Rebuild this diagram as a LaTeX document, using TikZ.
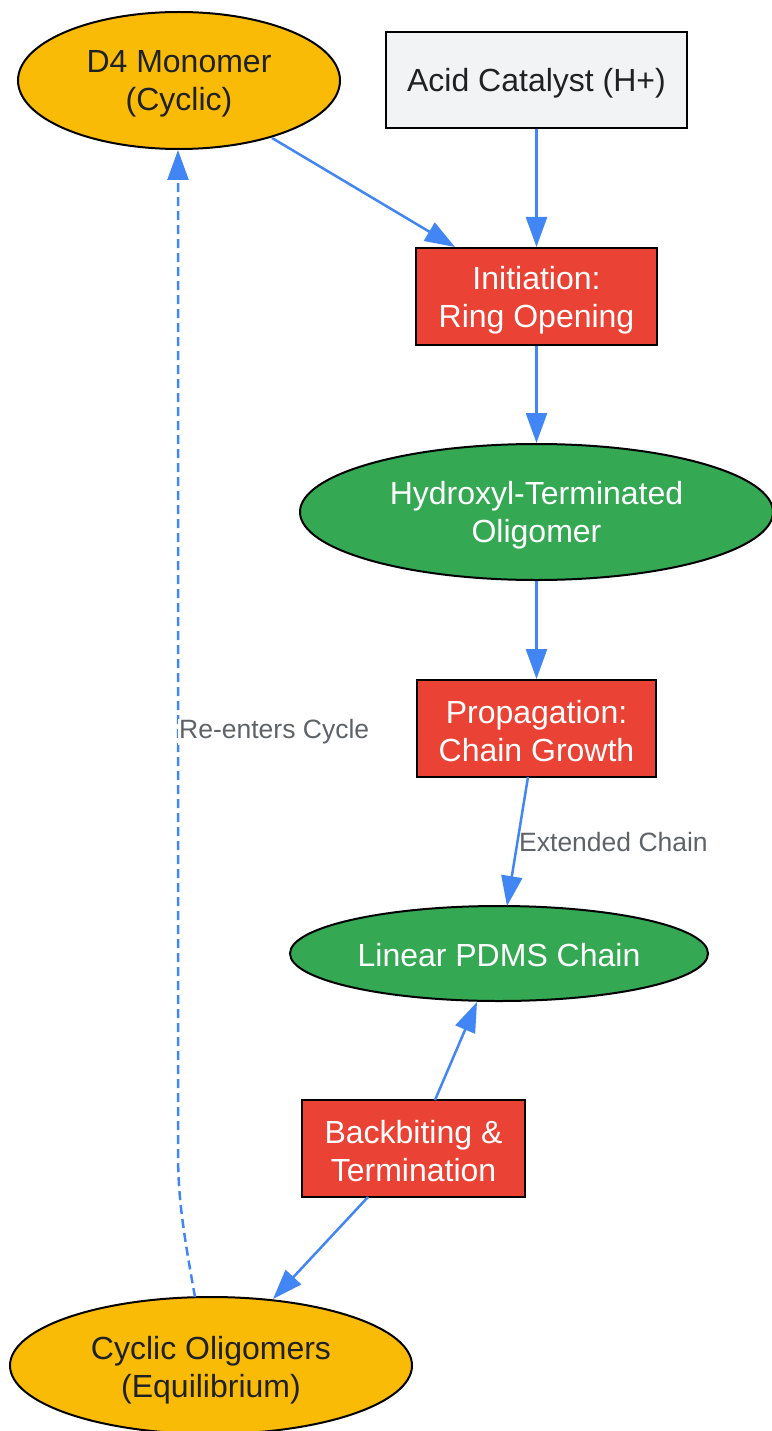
\documentclass[tikz,border=0pt]{standalone}
\usepackage{fontspec}
\setmainfont{Liberation Sans}
\usetikzlibrary{shapes.geometric,arrows.meta}
\definecolor{gyellow}{HTML}{F9BB05}
\definecolor{ggrey}{HTML}{F1F3F4}
\definecolor{gred}{HTML}{EA4335}
\definecolor{ggreen}{HTML}{34A853}
\definecolor{gblue}{HTML}{4285F4}
\definecolor{gtext}{HTML}{202124}
\definecolor{glabel}{HTML}{5F6368}
\tikzset{
  base/.style={draw=black, line width=2pt, inner sep=0pt},
  ell/.style={base, ellipse},
  box/.style={base, rectangle},
  yel/.style={ell, fill=gyellow},
  grn/.style={ell, fill=ggreen},
  red/.style={box, fill=gred},
  gry/.style={box, fill=ggrey},
  txt/.style={align=center, inner sep=0pt, font=\fontsize{32}{38}\selectfont},
  dark/.style={txt, text=gtext},
  light/.style={txt, text=white},
  conn/.style={draw=gblue, line width=2.5pt, -{Triangle[length=30pt,width=21pt]}},
  elabel/.style={text=glabel, font=\fontsize{26.5}{30}\selectfont, inner sep=1pt}
}
\begin{document}
\begin{tikzpicture}[x=1pt,y=-1pt]
\useasboundingbox (0,0) rectangle (771,1431);
\node[yel, minimum width=322pt, minimum height=137pt] (d4) at (179,80.5) {};
\node[gry, minimum width=301pt, minimum height=96pt] (acid) at (536.5,80) {};
\node[red, minimum width=241pt, minimum height=97pt] (init) at (536.5,296.5) {};
\node[grn, minimum width=473pt, minimum height=136pt] (hyd) at (536.5,512) {};
\node[red, minimum width=239pt, minimum height=97pt] (prop) at (536.5,728.5) {};
\node[grn, minimum width=418pt, minimum height=95pt] (lin) at (499,953.5) {};
\node[red, minimum width=223pt, minimum height=97pt] (back) at (413.5,1148.5) {};
\node[yel, minimum width=402pt, minimum height=137pt] (cyc) at (211,1365.5) {};

\node[dark] (d4t) at ([yshift=-3.5pt]d4.center) {D4 Monomer\\(Cyclic)};
\node[dark] (acidt) at ([yshift=-3.5pt]acid.center) {Acid Catalyst (H+)};
\node[light] (initt) at ([yshift=-3.5pt]init.center) {Initiation:\\Ring Opening};
\node[light] (hydt) at ([yshift=-3.5pt]hyd.center) {Hydroxyl-Terminated\\Oligomer};
\node[light] (propt) at ([yshift=-3pt]prop.center) {Propagation:\\Chain Growth};
\node[light] (lint) at ([yshift=-2pt]lin.center) {Linear PDMS Chain};
\node[light] (backt) at ([yshift=-2.5pt]back.center) {Backbiting \&\\Termination};
\node[dark] (cyct) at ([yshift=-4.5pt]cyc.center) {Cyclic Oligomers\\(Equilibrium)};

\coordinate (dstart) at (272,138);
\coordinate (iend) at (455,247);
\draw[conn] (dstart) -- (iend);
\draw[conn] (acid) -- (init);
\draw[conn] (init) -- (hyd);
\draw[conn] (hyd) -- (prop);
\coordinate (pstart) at (528,777);
\coordinate (lend) at (507,906);
\draw[conn] (pstart) -- (lend);
\node[elabel, anchor=west] (extl) at (518,842) {Extended Chain};
\coordinate (bstart) at (435,1100);
\coordinate (lend2) at (477,1002);
\draw[conn] (bstart) -- (lend2);
\coordinate (bstart2) at (368,1197);
\coordinate (cend) at (273,1299);
\draw[conn] (bstart2) -- (cend);
\coordinate (cstart) at (195,1297);
\coordinate (dend) at (178,150);
\coordinate (bend) at (178,1150);
\draw[conn, dash pattern=on 9pt off 5pt] (cstart) .. controls (182,1225) and (178,1195) .. (bend) -- (dend);
\node[elabel, fill=white, anchor=west] (reent) at (178,732) {Re-enters Cycle};
\end{tikzpicture}
\end{document}
